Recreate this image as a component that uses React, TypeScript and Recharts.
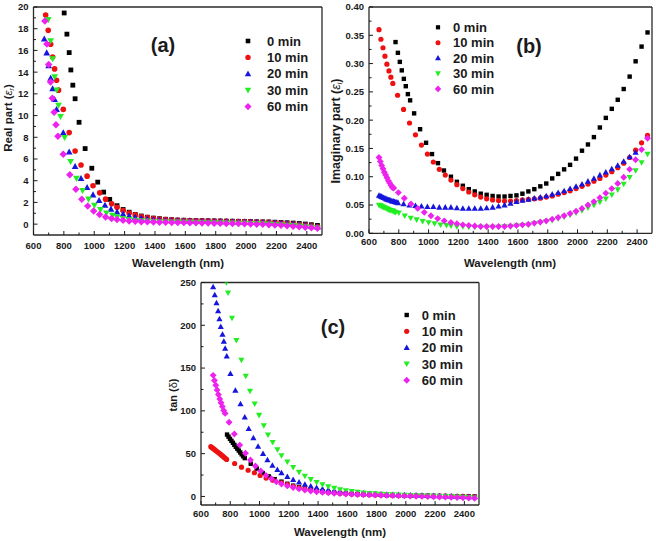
import React from 'react';
import { ScatterChart, Scatter, XAxis, YAxis } from 'recharts';

const FONT = '"Liberation Sans", Arial, Helvetica, sans-serif';
const INK = '#1a1a1a';

// ---------- shared data ----------
const SERIES_NAMES = ['0 min', '10 min', '20 min', '30 min', '60 min'];
const SERIES_COLORS = ['#000000', '#ee1111', '#1515dd', '#22ee22', '#ee22ee'];
const SERIES_SHAPES = ['square', 'circle', 'up', 'down', 'diamond'];

const TAIL_WL = [1150, 1190, 1230, 1270, 1310, 1350, 1390, 1430, 1470, 1510, 1550, 1590, 1630, 1670, 1710, 1750, 1790, 1830, 1870, 1910, 1950, 1990, 2030, 2070, 2110, 2150, 2190, 2230, 2270, 2310, 2350, 2390, 2430, 2470];

const X_MAJOR = [600, 800, 1000, 1200, 1400, 1600, 1800, 2000, 2200, 2400];
const X_MINOR = [700, 900, 1100, 1300, 1500, 1700, 1900, 2100, 2300];

// ---------- panel (a): real part ----------
const A_Y_MAJOR = [0, 2, 4, 6, 8, 10, 12, 14, 16, 18, 20];
const A_Y_MINOR = [1, 3, 5, 7, 9, 11, 13, 15, 17, 19];

const A0_WL = [802, 820, 835, 846, 859, 874, 900, 940, 984, 1023, 1062, 1102];
const A0_HEAD = [19.45, 17.5, 15.8, 14.2, 12.8, 11.55, 9.38, 6.96, 5.15, 3.87, 2.95, 2.28];
const A0_TAIL = [1.7, 1.35, 1.1, 0.9, 0.75, 0.64, 0.56, 0.5, 0.45, 0.41, 0.38, 0.36, 0.34, 0.33, 0.32, 0.31, 0.3, 0.29, 0.28, 0.27, 0.26, 0.25, 0.24, 0.22, 0.21, 0.2, 0.18, 0.16, 0.13, 0.1, 0.06, 0.01, -0.05, -0.12];

const A10_WL = [680, 697, 713, 726, 739, 752, 765, 796, 835, 874, 913, 953, 992, 1036, 1075, 1115];
const A10_HEAD = [19.26, 17.85, 16.57, 15.4, 14.3, 13.26, 12.34, 10.57, 8.43, 6.74, 5.45, 4.42, 3.53, 2.88, 2.3, 1.87];
const A10_TAIL = [1.55, 1.25, 1.02, 0.85, 0.7, 0.6, 0.52, 0.46, 0.42, 0.39, 0.36, 0.34, 0.32, 0.31, 0.3, 0.29, 0.28, 0.27, 0.26, 0.25, 0.24, 0.23, 0.22, 0.2, 0.18, 0.16, 0.13, 0.1, 0.06, 0.02, -0.03, -0.09, -0.16, -0.24];

const A20_WL = [671, 687, 700, 713, 726, 739, 752, 796, 835, 874, 913, 953, 992, 1032, 1071, 1110];
const A20_HEAD = [17.06, 15.78, 14.6, 13.44, 12.47, 11.49, 10.57, 8.43, 6.65, 5.31, 4.21, 3.38, 2.7, 2.19, 1.75, 1.39];
const A20_TAIL = [1.12, 0.92, 0.76, 0.63, 0.54, 0.47, 0.42, 0.38, 0.35, 0.33, 0.31, 0.3, 0.29, 0.28, 0.27, 0.26, 0.25, 0.24, 0.23, 0.22, 0.21, 0.2, 0.19, 0.17, 0.15, 0.13, 0.1, 0.07, 0.03, -0.01, -0.06, -0.12, -0.19, -0.26];

const A30_WL = [697, 713, 726, 739, 752, 765, 778, 805, 844, 883, 923, 962, 1001, 1041, 1080, 1120];
const A30_HEAD = [18.83, 16.88, 15.22, 13.57, 12.34, 10.94, 9.9, 7.97, 5.77, 4.21, 3.1, 2.3, 1.73, 1.33, 1.02, 0.8];
const A30_TAIL = [0.65, 0.52, 0.43, 0.36, 0.31, 0.27, 0.24, 0.22, 0.2, 0.19, 0.18, 0.17, 0.16, 0.15, 0.14, 0.13, 0.12, 0.11, 0.1, 0.09, 0.08, 0.07, 0.06, 0.04, 0.02, 0, -0.03, -0.06, -0.1, -0.14, -0.19, -0.24, -0.3, -0.36];

const A60_WL = [675, 688, 700, 712, 724, 736, 748, 761, 796, 839, 879, 918, 957, 996, 1035, 1075, 1114];
const A60_HEAD = [18.7, 16.6, 14.7, 13.1, 11.6, 10.3, 9.16, 8.1, 6.44, 4.54, 3.22, 2.3, 1.66, 1.2, 0.88, 0.66, 0.52];
const A60_TAIL = [0.42, 0.35, 0.3, 0.26, 0.23, 0.21, 0.19, 0.18, 0.17, 0.16, 0.15, 0.14, 0.13, 0.12, 0.11, 0.1, 0.09, 0.08, 0.07, 0.06, 0.05, 0.04, 0.02, 0, -0.02, -0.05, -0.08, -0.11, -0.15, -0.19, -0.23, -0.28, -0.33, -0.38];

// ---------- panel (b): imaginary part ----------
const B_Y_MAJOR = [0, 0.05, 0.1, 0.15, 0.2, 0.25, 0.3, 0.35, 0.4];
const B_Y_MINOR = [0.025, 0.075, 0.125, 0.175, 0.225, 0.275, 0.325, 0.375];

const B0_WL = [778, 794, 807, 820, 834, 847, 861, 876, 903, 943, 983, 1023, 1063, 1103];
const B0_HEAD = [0.338, 0.319, 0.303, 0.288, 0.273, 0.26, 0.246, 0.235, 0.212, 0.184, 0.16, 0.14, 0.124, 0.111];
const B0_TAIL = [0.1, 0.091, 0.084, 0.078, 0.074, 0.07, 0.068, 0.066, 0.065, 0.065, 0.066, 0.067, 0.07, 0.074, 0.078, 0.083, 0.088, 0.097, 0.105, 0.113, 0.121, 0.132, 0.146, 0.157, 0.17, 0.187, 0.204, 0.22, 0.236, 0.255, 0.277, 0.304, 0.33, 0.355];

const B10_WL = [667, 680, 694, 707, 720, 734, 747, 760, 792, 832, 872, 912, 952, 992, 1032, 1072, 1112];
const B10_HEAD = [0.36, 0.343, 0.328, 0.313, 0.299, 0.287, 0.276, 0.265, 0.244, 0.219, 0.195, 0.174, 0.156, 0.14, 0.126, 0.113, 0.103];
const B10_TAIL = [0.094, 0.086, 0.079, 0.073, 0.068, 0.064, 0.061, 0.059, 0.058, 0.057, 0.057, 0.058, 0.059, 0.06, 0.061, 0.062, 0.064, 0.066, 0.069, 0.072, 0.075, 0.079, 0.083, 0.087, 0.092, 0.097, 0.103, 0.109, 0.116, 0.124, 0.134, 0.147, 0.16, 0.173];

const B20_WL = [667, 675, 683, 691, 699, 707, 715, 723, 731, 739, 747, 755, 763, 771, 779, 787, 795, 832, 872, 912, 952, 992, 1032, 1072, 1112];
const B20_HEAD = [0.067, 0.066, 0.065, 0.064, 0.063, 0.062, 0.061, 0.06, 0.059, 0.059, 0.058, 0.057, 0.057, 0.056, 0.055, 0.055, 0.054, 0.052, 0.05, 0.049, 0.048, 0.047, 0.047, 0.046, 0.046];
const B20_TAIL = [0.046, 0.045, 0.044, 0.044, 0.044, 0.044, 0.045, 0.046, 0.048, 0.05, 0.053, 0.056, 0.058, 0.06, 0.062, 0.064, 0.066, 0.069, 0.072, 0.075, 0.079, 0.083, 0.087, 0.092, 0.097, 0.103, 0.108, 0.114, 0.12, 0.127, 0.135, 0.143, null, null];

const B30_WL = [667, 675, 683, 691, 699, 707, 715, 723, 731, 739, 747, 755, 763, 771, 779, 800, 840, 880, 920, 960, 1000, 1040, 1080, 1120];
const B30_HEAD = [0.05, 0.049, 0.048, 0.047, 0.046, 0.045, 0.044, 0.043, 0.042, 0.041, 0.04, 0.04, 0.039, 0.038, 0.037, 0.036, 0.031, 0.027, 0.024, 0.021, 0.019, 0.017, 0.015, 0.014];
const B30_TAIL = [0.013, 0.012, 0.012, 0.011, 0.011, 0.011, 0.011, 0.011, 0.011, 0.012, 0.012, 0.013, 0.014, 0.015, 0.017, 0.019, 0.021, 0.023, 0.026, 0.029, 0.032, 0.036, 0.04, 0.045, 0.05, 0.055, 0.061, 0.068, 0.077, 0.087, 0.099, 0.111, 0.125, 0.14];

const B60_WL = [667, 676, 685, 694, 703, 712, 721, 730, 739, 748, 757, 766, 797, 837, 882, 927, 971, 1016, 1061, 1105];
const B60_HEAD = [0.134, 0.127, 0.12, 0.114, 0.108, 0.103, 0.098, 0.093, 0.089, 0.085, 0.081, 0.08, 0.072, 0.062, 0.052, 0.044, 0.037, 0.031, 0.026, 0.022];
const B60_TAIL = [0.019, 0.017, 0.015, 0.014, 0.013, 0.012, 0.012, 0.012, 0.012, 0.012, 0.013, 0.014, 0.015, 0.016, 0.018, 0.02, 0.022, 0.025, 0.028, 0.031, 0.035, 0.039, 0.044, 0.05, 0.056, 0.063, 0.071, 0.079, 0.088, 0.099, 0.113, 0.13, 0.148, 0.168];

// ---------- panel (c): tan(delta) ----------
const C_Y_MAJOR = [0, 50, 100, 150, 200, 250];
const C_Y_MINOR = [25, 75, 125, 175, 225];

const C0_WL = [778, 788, 798, 808, 818, 828, 838, 848, 858, 868, 878, 888, 899, 940, 981, 1022, 1063, 1104];
const C0_HEAD = [72.3, 69.8, 67.3, 65, 62.7, 60.3, 58, 55.8, 53.6, 51.4, 49.2, 47, 44.8, 38.2, 32.5, 27.3, 23.5, 20.2];
const C0_TAIL = [17.3, 14.8, 12.6, 10.8, 9.2, 7.9, 6.8, 5.9, 5.1, 4.4, 3.9, 3.4, 3, 2.7, 2.4, 2.2, 2, 1.8, 1.6, 1.5, 1.3, 1.2, 1.1, 1, 0.9, 0.8, 0.7, 0.6, 0.5, 0.4, 0.3, 0.2, 0.1, 0];

const C10_WL = [667, 676, 685, 694, 703, 712, 721, 730, 739, 748, 757, 766, 775, 830, 877, 922, 965, 1004, 1045, 1090];
const C10_HEAD = [58.2, 57, 55.8, 54.6, 53.4, 52.2, 51, 49.8, 48.5, 47.2, 45.9, 44.6, 43.3, 38.5, 34.2, 30.6, 27.7, 24.6, 21.5, 19];
const C10_TAIL = [16, 13.8, 11.8, 10.1, 8.7, 7.5, 6.5, 5.6, 4.9, 4.3, 3.8, 3.3, 2.9, 2.6, 2.3, 2, 1.8, 1.6, 1.4, 1.2, 1.1, 1, 0.9, 0.8, 0.7, 0.6, 0.5, 0.4, 0.3, 0.2, 0.1, 0, -0.1, -0.2];

const C20_WL = [683, 694, 706, 717, 726, 735, 747, 756, 765, 776, 801, 835, 870, 899, 926, 958, 990, 1024, 1054, 1088, 1122];
const C20_HEAD = [244.9, 235.5, 226.1, 216.7, 207.4, 198.4, 189.4, 181.2, 173, 164, 143.4, 123.8, 108.2, 92.6, 79.3, 68.4, 58.6, 50, 42.6, 36.3, 31.3];
const C20_TAIL = [27.5, 23.2, 19.6, 16.6, 14.1, 12, 10.3, 8.9, 7.7, 6.7, 5.9, 5.2, 4.6, 4.1, 3.7, 3.3, 3, 2.7, 2.4, 2.2, 2, 1.8, 1.6, 1.4, 1.2, 1, 0.8, 0.6, 0.4, 0.2, 0, -0.2, -0.4, -0.6];

const C30_WL = [774, 785, 812, 842, 876, 906, 935, 967, 997, 1029, 1058, 1090, 1122];
const C30_HEAD = [250, 238, 208.5, 182.4, 159.4, 140.6, 123, 108.2, 94.9, 82.8, 71.9, 63.3, 54.7];
const C30_TAIL = [47.8, 40.3, 34, 28.5, 23.7, 19.8, 16.5, 13.8, 11.5, 9.6, 8, 6.8, 5.8, 5, 4.3, 3.7, 3.2, 2.8, 2.4, 2.1, 1.8, 1.5, 1.2, 1, 0.8, 0.6, 0.4, 0.2, 0, -0.2, -0.5, -0.8, -1.2, -1.8];

const C60_WL = [683, 692, 701, 710, 719, 728, 737, 746, 755, 765, 792, 828, 865, 904, 938, 972, 1008, 1044, 1081, 1115];
const C60_HEAD = [141.5, 135.5, 130, 124.5, 119, 114, 109.5, 105, 100.5, 97, 86.7, 73, 60, 50.5, 42.6, 35.6, 29.7, 24.6, 20.7, 17.2];
const C60_TAIL = [14.6, 12.3, 10.4, 8.8, 7.5, 6.4, 5.5, 4.8, 4.2, 3.7, 3.3, 2.9, 2.6, 2.3, 2, 1.8, 1.6, 1.4, 1.2, 1, 0.8, 0.6, 0.4, 0.2, 0, -0.2, -0.4, -0.6, -0.8, -1, -1.2, -1.5, -1.8, -2.1];

// ---------- helpers ----------
type Pt = { x: number; y: number };
function build(wl: number[], head: (number | null)[], tail: (number | null)[]): Pt[] {
  const pts: Pt[] = [];
  wl.forEach((x, i) => { const y = head[i]; if (y !== null && y !== undefined) pts.push({ x, y }); });
  TAIL_WL.forEach((x, i) => { const y = tail[i]; if (y !== null && y !== undefined) pts.push({ x, y }); });
  return pts;
}

function Marker({ cx, cy, kind, color, s }: { cx: number; cy: number; kind: string; color: string; s: number }) {
  if (!isFinite(cx) || !isFinite(cy)) return null;
  if (kind === 'square') return <rect x={cx - s / 2} y={cy - s / 2} width={s} height={s} fill={color} />;
  if (kind === 'circle') return <circle cx={cx} cy={cy} r={s / 2 + 0.4} fill={color} />;
  if (kind === 'up' || kind === 'down') {
    const w = s * 1.4;
    const h = s * 1.2;
    const d = kind === 'up' ? 1 : -1;
    const pts = `${cx},${cy - d * h * 0.6} ${cx - w / 2},${cy + d * h * 0.45} ${cx + w / 2},${cy + d * h * 0.45}`;
    return <polygon points={pts} fill={color} />;
  }
  const r = s * 0.78;
  return <polygon points={`${cx},${cy - r} ${cx + r},${cy} ${cx},${cy + r} ${cx - r},${cy}`} fill={color} />;
}

const near = (arr: number[], v: number) => arr.some((m) => Math.abs(m - v) < 1e-9);

function makeXTick(offset: number) {
  return (props: any) => {
    const { x, y, payload } = props;
    const major = near(X_MAJOR, payload.value);
    return (
      <g>
        <line x1={x} x2={x} y1={y} y2={y - (major ? 4 : 2.5)} stroke={INK} strokeWidth={1} />
        {major && (
          <text x={x} y={y + offset} textAnchor="middle" fontSize={9.5} fontWeight="bold" fill={INK} fontFamily={FONT}>
            {payload.value}
          </text>
        )}
      </g>
    );
  };
}

function makeYTick(majors: number[], digits: number) {
  return (props: any) => {
    const { x, y, payload } = props;
    const major = near(majors, payload.value);
    return (
      <g>
        <line x1={x} x2={x + (major ? 4 : 2.5)} y1={y} y2={y} stroke={INK} strokeWidth={1} />
        {major && (
          <text x={x - 5} y={y + 3.4} textAnchor="end" fontSize={9.5} fontWeight="bold" fill={INK} fontFamily={FONT}>
            {payload.value.toFixed(digits)}
          </text>
        )}
      </g>
    );
  };
}

type PanelCfg = {
  left: number; top: number; width: number; height: number;
  plot: { top: number; right: number; bottom: number; left: number };
  yDomain: [number, number]; yMajor: number[]; yMinor: number[]; digits: number;
  xLabelOffset: number; size: number;
  series: Pt[][];
};

const PANELS: PanelCfg[] = [
  {
    left: 0, top: 0, width: 330, height: 270,
    plot: { top: 7, right: 8, bottom: 35, left: 33.5 },
    yDomain: [-1, 20], yMajor: A_Y_MAJOR, yMinor: A_Y_MINOR, digits: 0, xLabelOffset: 14, size: 4.8,
    series: [build(A0_WL, A0_HEAD, A0_TAIL), build(A10_WL, A10_HEAD, A10_TAIL), build(A20_WL, A20_HEAD, A20_TAIL), build(A30_WL, A30_HEAD, A30_TAIL), build(A60_WL, A60_HEAD, A60_TAIL)],
  },
  {
    left: 330, top: 0, width: 326, height: 270,
    plot: { top: 7, right: 4, bottom: 36.7, left: 39 },
    yDomain: [0, 0.4], yMajor: B_Y_MAJOR, yMinor: B_Y_MINOR, digits: 2, xLabelOffset: 12, size: 4.4,
    series: [build(B0_WL, B0_HEAD, B0_TAIL), build(B10_WL, B10_HEAD, B10_TAIL), build(B20_WL, B20_HEAD, B20_TAIL), build(B30_WL, B30_HEAD, B30_TAIL), build(B60_WL, B60_HEAD, B60_TAIL)],
  },
  {
    left: 150, top: 270, width: 340, height: 271,
    plot: { top: 12.5, right: 11, bottom: 36, left: 51 },
    yDomain: [-10, 250], yMajor: C_Y_MAJOR, yMinor: C_Y_MINOR, digits: 0, xLabelOffset: 11.5, size: 4.4,
    series: [build(C0_WL, C0_HEAD, C0_TAIL), build(C10_WL, C10_HEAD, C10_TAIL), build(C20_WL, C20_HEAD, C20_TAIL), build(C30_WL, C30_HEAD, C30_TAIL), build(C60_WL, C60_HEAD, C60_TAIL)],
  },
];

function Panel({ cfg }: { cfg: PanelCfg }) {
  const axisLine = { stroke: '#2a2a2a', strokeWidth: 1.3 };
  const xTicks = [...X_MAJOR, ...X_MINOR].sort((a, b) => a - b);
  const yTicks = [...cfg.yMajor, ...cfg.yMinor].sort((a, b) => a - b);
  const A = 1; // thickness reserved by each (near-zero sized) axis
  const margin = { top: cfg.plot.top - A, right: cfg.plot.right - A, bottom: cfg.plot.bottom - A, left: cfg.plot.left - A };
  return (
    <div style={{ position: 'absolute', left: cfg.left, top: cfg.top }}>
      <ScatterChart width={cfg.width} height={cfg.height} margin={margin}>
        <XAxis xAxisId="b" dataKey="x" type="number" domain={[600, 2500]} allowDataOverflow ticks={xTicks} interval={0}
          height={A} tickSize={0} tickMargin={0} tickLine={false} axisLine={axisLine} tick={makeXTick(cfg.xLabelOffset)} />
        <XAxis xAxisId="t" orientation="top" type="number" domain={[600, 2500]} allowDataOverflow height={A}
          tick={false} tickLine={false} axisLine={axisLine} />
        <YAxis yAxisId="l" dataKey="y" type="number" domain={cfg.yDomain} allowDataOverflow ticks={yTicks} interval={0}
          width={A} tickSize={0} tickMargin={0} tickLine={false} axisLine={axisLine} tick={makeYTick(cfg.yMajor, cfg.digits)} />
        <YAxis yAxisId="r" orientation="right" type="number" domain={cfg.yDomain} allowDataOverflow width={A}
          tick={false} tickLine={false} axisLine={axisLine} />
        {cfg.series.map((data, i) => (
          <Scatter key={SERIES_NAMES[i]} name={SERIES_NAMES[i]} data={data} xAxisId="b" yAxisId="l" isAnimationActive={false}
            fill={SERIES_COLORS[i]}
            shape={(p: any) => <Marker cx={p.cx} cy={p.cy} kind={SERIES_SHAPES[i]} color={SERIES_COLORS[i]} s={cfg.size} />} />
        ))}
      </ScatterChart>
    </div>
  );
}

function LegendBlock({ x, y, rowH, textDx, s }: { x: number; y: number; rowH: number; textDx: number; s: number }) {
  return (
    <g>
      {SERIES_NAMES.map((name, i) => (
        <g key={name}>
          <Marker cx={x} cy={y + i * rowH} kind={SERIES_SHAPES[i]} color={SERIES_COLORS[i]} s={s} />
          <text x={x + textDx} y={y + i * rowH + 4.6} fontSize={13} fontWeight="bold" fill={INK} fontFamily={FONT}>{name}</text>
        </g>
      ))}
    </g>
  );
}

export default function App() {
  const t = { fontFamily: FONT, fill: INK, fontWeight: 'bold' as const };
  return (
    <div style={{ position: 'absolute', left: 0, top: 0, width: 656, height: 541, background: '#fff', overflow: 'hidden' }}>
      {PANELS.map((cfg, i) => <Panel key={i} cfg={cfg} />)}
      <svg width={656} height={541} style={{ position: 'absolute', left: 0, top: 0, pointerEvents: 'none' }}>
        <LegendBlock x={248} y={41} rowH={16.4} textDx={19} s={4.6} />
        <LegendBlock x={438} y={27.3} rowH={15.4} textDx={15} s={4.2} />
        <LegendBlock x={406.7} y={315} rowH={16.3} textDx={15} s={4.4} />

        <text x={163} y={52} textAnchor="middle" fontSize={20} {...t}>(a)</text>
        <text x={529} y={53} textAnchor="middle" fontSize={20} {...t}>(b)</text>
        <text x={333} y={334} textAnchor="middle" fontSize={20} {...t}>(c)</text>

        <text x={178} y={267} textAnchor="middle" fontSize={11.5} {...t}>Wavelength (nm)</text>
        <text x={510} y={267} textAnchor="middle" fontSize={11.5} {...t}>Wavelength (nm)</text>
        <text x={340} y={536} textAnchor="middle" fontSize={11.5} {...t}>Wavelength (nm)</text>

        <text transform="translate(12,118) rotate(-90)" textAnchor="middle" fontSize={11.5} {...t}>
          Real part (<tspan fontStyle="italic" fontWeight="normal">ε</tspan><tspan fontStyle="italic" fontWeight="normal" fontSize={7} dy={2}>r</tspan><tspan dy={-2}>)</tspan>
        </text>
        <text transform="translate(340,131) rotate(-90)" textAnchor="middle" fontSize={12.5} {...t}>
          Imaginary part (<tspan fontStyle="italic" fontWeight="normal">ε</tspan><tspan fontStyle="italic" fontWeight="normal" fontSize={7} dy={2}>i</tspan><tspan dy={-2}>)</tspan>
        </text>
        <text transform="translate(177,395) rotate(-90)" textAnchor="middle" fontSize={11} {...t}>
          tan (<tspan fontWeight="normal">δ</tspan>)
        </text>
      </svg>
    </div>
  );
}
